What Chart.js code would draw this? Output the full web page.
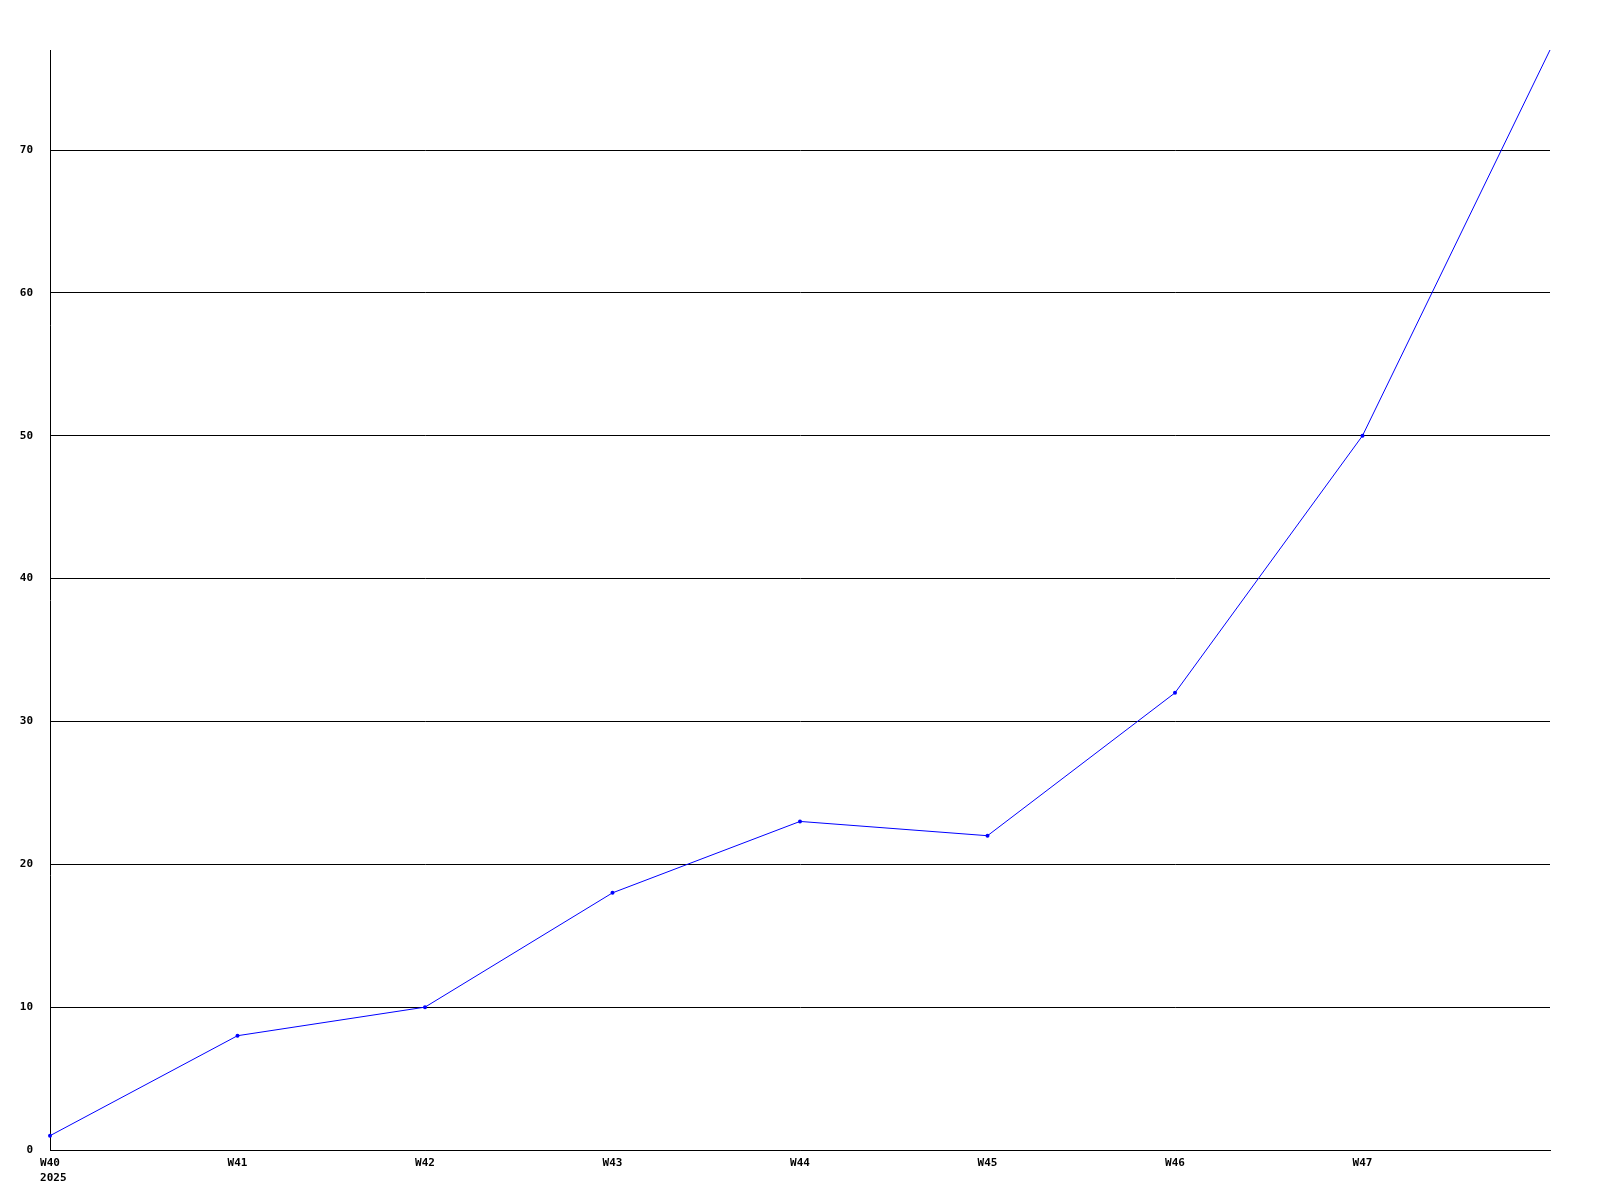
<!DOCTYPE html>
<html>
<head>
<meta charset="utf-8">
<script src="https://cdn.jsdelivr.net/npm/chart.js@4"></script>
<style>
  html, body { margin: 0; padding: 0; background: #fff; }
  #wrap { width: 1600px; height: 1200px; }
</style>
</head>
<body>
<div id="wrap"><canvas id="weeklyChart"></canvas></div>
<script>
// Weekly counts
const weeks = ["W40", "W41", "W42", "W43", "W44", "W45", "W46", "W47", "W48"];
const counts = [1, 8, 10, 18, 23, 22, 32, 50, 77];
const yearLabel = "2025";
const yTickStep = 10;

const font = { family: "'DejaVu Sans Mono', monospace", size: 11, weight: "bold" };

const ctx = document.getElementById("weeklyChart").getContext("2d");
const chart = new Chart(ctx, {
  type: "line",
  data: {
    labels: weeks,
    datasets: [
      {
        data: counts,
        borderColor: "#0000ff",
        backgroundColor: "#0000ff",
        borderWidth: 1,
        tension: 0,
        pointRadius: (c) => (c.dataIndex === counts.length - 1 ? 0 : 2),
        pointBorderWidth: 0,
        pointBackgroundColor: "#0000ff",
      },
    ],
  },
  options: {
    responsive: true,
    maintainAspectRatio: false,
    animation: false,
    layout: { padding: { top: 50, right: 50, left: 0, bottom: 0 } },
    plugins: { legend: { display: false }, tooltip: { enabled: false } },
    scales: {
      x: {
        offset: false,
        grid: { display: false, drawTicks: false },
        border: { color: "#000", width: 1 },
        ticks: {
          color: "#000",
          font: { ...font, lineHeight: 1.4 },
          padding: 5,
          maxRotation: 0,
          autoSkip: false,
          callback: (v, i) => {
            // year sits under the first week, left-aligned with it
            if (i === 0) return [weeks[0], " " + yearLabel];
            if (i === weeks.length - 1) return "";
            return weeks[i];
          },
        },
        afterFit: (axis) => { axis.height = 50; },
      },
      y: {
        min: 0,
        max: Math.max(...counts),
        grid: { color: "#000", lineWidth: 1, drawTicks: false },
        border: { color: "#000", width: 1 },
        ticks: { color: "#000", font: font, stepSize: yTickStep, padding: 17 },
        afterBuildTicks: (axis) => {
          axis.ticks = axis.ticks.filter((t) => t.value % yTickStep === 0);
        },
        afterFit: (axis) => { axis.width = 50; },
      },
    },
  },
});
</script>
</body>
</html>
